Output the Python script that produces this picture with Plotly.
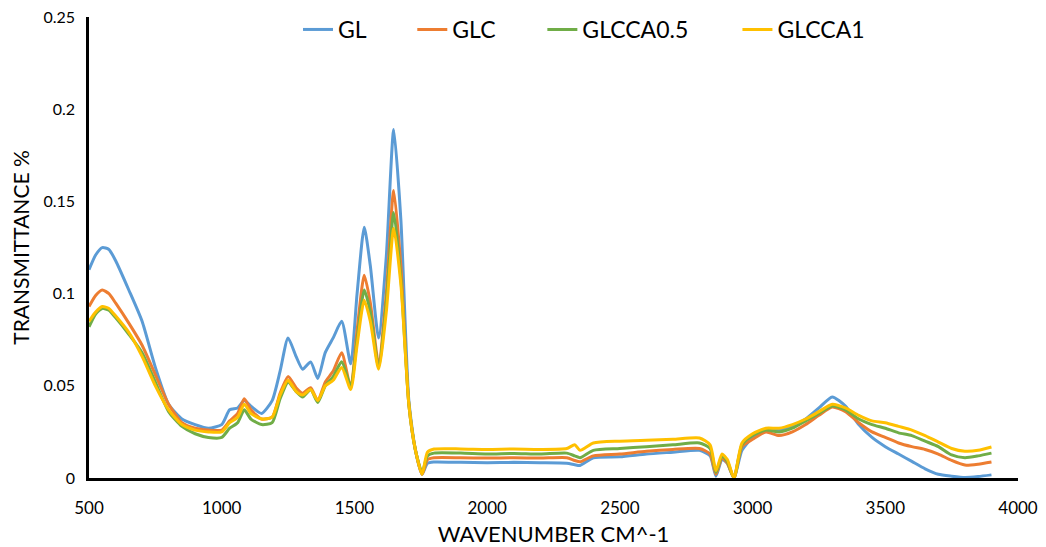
import plotly.graph_objects as go

wavenumber = [500, 525, 550, 575, 600, 650, 700, 750, 800, 850, 900, 950, 1000, 1030, 1060, 1085, 1110, 1150,
              1190, 1220, 1250, 1280, 1305, 1335, 1362, 1390, 1420, 1452, 1486, 1510, 1537, 1560, 1591, 1620,
              1648, 1675, 1705, 1730, 1755, 1775, 1800, 1900, 2000, 2100, 2200, 2300, 2330, 2350, 2400, 2500,
              2600, 2700, 2800, 2840, 2862, 2885, 2905, 2930, 2960, 3000, 3050, 3100, 3150, 3200, 3250, 3300,
              3350, 3400, 3450, 3500, 3550, 3600, 3650, 3700, 3750, 3800, 3850, 3900]

gl = [.113, .121, .125, .124, .118, .102, .085, .060, .040, .032, .029, .027, .029, .037, .038, .042, .039, .035,
      .042, .058, .076, .066, .059, .063, .054, .068, .076, .085, .062, .100, .136, .115, .076, .120,
      .189, .140, .042, .015, .002, .008, .0087, .0085, .0083, .0085, .0083, .008, .0072, .0068, .011, .0115,
      .013, .014, .015, .012, .001, .010, .008, .000, .015, .022, .026, .026, .028, .032, .038, .044,
      .039, .029, .022, .017, .013, .009, .005, .002, .001, .0003, .0008, .0017]

glc = [.093, .099, .102, .100, .095, .084, .072, .056, .040, .030, .027, .026, .026, .031, .035, .043, .037, .032,
       .033, .046, .055, .049, .046, .049, .042, .052, .058, .068, .049, .080, .110, .095, .062, .100,
       .156, .115, .040, .015, .002, .010, .011, .011, .0108, .011, .0108, .011, .0095, .0088, .012, .013,
       .0145, .0155, .016, .013, .002, .011, .008, .000, .017, .021, .025, .023, .025, .029, .034, .0385,
       .036, .030, .025, .022, .019, .017, .0155, .013, .0095, .007, .0075, .0087]

glcca05 = [.082, .089, .092, .091, .087, .078, .068, .052, .036, .028, .024, .022, .022, .027, .030, .037, .032, .029,
           .030, .043, .052, .047, .044, .048, .041, .050, .055, .063, .050, .075, .102, .090, .060, .095,
           .144, .108, .040, .015, .003, .012, .0135, .0135, .013, .0133, .013, .0135, .012, .011, .015, .016,
           .017, .018, .019, .016, .003, .012, .009, .000, .018, .023, .026, .025, .027, .031, .035, .039,
           .037, .032, .029, .027, .0245, .023, .020, .017, .0125, .011, .012, .0135]

glcca1 = [.085, .090, .093, .092, .088, .079, .066, .050, .037, .029, .026, .025, .025, .030, .033, .040, .035, .032,
          .033, .045, .053, .047, .045, .048, .042, .050, .053, .060, .048, .072, .0965, .085, .059, .090,
          .1355, .105, .040, .015, .002, .014, .0157, .0158, .0155, .0157, .0155, .016, .018, .015, .019, .020,
          .0205, .021, .0217, .018, .004, .013, .010, .000, .019, .024, .027, .027, .029, .032, .036, .040,
          .038, .034, .031, .030, .028, .026, .023, .0195, .016, .0145, .015, .0168]

series_names = ["GL", "GLC", "GLCCA0.5", "GLCCA1"]
series_values = [gl, glc, glcca05, glcca1]
colors = ["#5B9BD5", "#ED7D31", "#70AD47", "#FFC000"]

x_ticks = [500, 1000, 1500, 2000, 2500, 3000, 3500, 4000]
y_ticks = [0, 0.05, 0.1, 0.15, 0.2, 0.25]
y_tick_text = ["0", "0.05", "0.1", "0.15", "0.2", "0.25"]

FONT = "Lato, DejaVu Sans Condensed, sans-serif"

legend_x = [0.225, 0.348, 0.488, 0.698]
legend_keys = ["legend", "legend2", "legend3", "legend4"]

fig = go.Figure()
for name, vals, col, lk in zip(series_names, series_values, colors, legend_keys):
    fig.add_trace(go.Scatter(x=wavenumber, y=vals, mode="lines", name=name, legend=lk, showlegend=True,
                             line=dict(color=col, width=3, shape="spline", smoothing=0.6)))

layout_legends = {}
for lk, lx in zip(legend_keys, legend_x):
    layout_legends[lk] = dict(x=lx, y=1.0, yref="container", xanchor="left", yanchor="top", orientation="h",
                              bgcolor="rgba(0,0,0,0)", font=dict(family=FONT, size=23, color="#000000"),
                              itemwidth=30, visible=True)

# the page body adds an 8px offset, so the figure is sized to fit the window
fig.update_layout(
    width=1038, height=539,
    margin=dict(l=81, r=28, t=9, b=69, autoexpand=False),
    paper_bgcolor="white", plot_bgcolor="white",
    showlegend=True,
    font=dict(family=FONT, color="#000000"),
    **layout_legends,
)
fig.update_xaxes(range=[500, 4000], tickvals=x_ticks, showgrid=False, zeroline=False,
                 showline=True, linecolor="black", linewidth=2.5, ticks="", automargin=False,
                 ticklabelstandoff=13, ticklabeloverflow="allow",
                 tickfont=dict(family=FONT, size=17, color="#000000"),
                 title=dict(text="WAVENUMBER CM^-1", font=dict(family=FONT, size=22, color="#000000"), standoff=25))
fig.update_yaxes(range=[0, 0.2501], tickvals=y_ticks, ticktext=y_tick_text, showgrid=False, zeroline=False,
                 showline=True, linecolor="black", linewidth=2.5, ticks="", automargin=False,
                 ticklabelstandoff=8, ticklabeloverflow="allow",
                 tickfont=dict(family=FONT, size=16, color="#000000"),
                 title=dict(text="TRANSMITTANCE %", font=dict(family=FONT, size=21, color="#000000"), standoff=10))

fig.write_html("out.html")
